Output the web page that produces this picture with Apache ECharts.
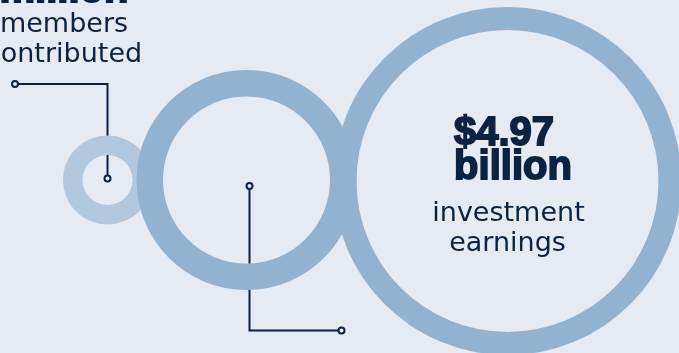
<!DOCTYPE html>
<html>
<head>
<meta charset="utf-8">
<script src="https://cdn.jsdelivr.net/npm/echarts@6/dist/echarts.min.js"></script>
<style>
  html, body { margin: 0; padding: 0; background: #e6eaf3; }
  #chart { width: 679px; height: 353px; }
</style>
</head>
<body>
<div id="chart"></div>
<script>
// Funding sources shown as rings; only the earnings figure carries a value.
const categories = ['Member contributions', 'Employer contributions', 'Investment earnings'];
const earningsBillions = 4.97;
const memberLines = ['million', 'members', 'contributed'];
const earningsLines = ['$' + earningsBillions.toFixed(2), 'billion'];
const earningsCaption = ['investment', 'earnings'];

const NAVY = '#0c2241';
const BG = '#e6eaf3';
const RING = '#93b2d0';
const RING_LIGHT = '#b1c8de';
const BOLD_FONT = '"Liberation Sans", Arial, sans-serif';
const BODY_FONT = '"DejaVu Sans", sans-serif';

const chart = echarts.init(document.getElementById('chart'), null, { renderer: 'canvas' });

function ring(name, value, center, radius, color) {
  return {
    type: 'pie',
    name: name,
    center: center,
    radius: radius,
    silent: true,
    animation: false,
    label: { show: false },
    labelLine: { show: false },
    itemStyle: { color: color, borderWidth: 0 },
    emphasis: { disabled: true },
    data: [{ name: name, value: value }]
  };
}

function textLine(str, x, y, font, size, weight, extra) {
  return {
    type: 'text',
    x: x,
    y: y,
    z: 20,
    silent: true,
    style: Object.assign({
      text: str,
      fill: NAVY,
      font: weight + ' ' + size + 'px ' + font,
      textAlign: 'center',
      textVerticalAlign: 'middle'
    }, extra || {})
  };
}

function dot(x, y) {
  return {
    type: 'circle', z: 30, silent: true,
    shape: { cx: x, cy: y, r: 3 },
    style: { fill: BG, stroke: NAVY, lineWidth: 2 }
  };
}

function connector(points) {
  return {
    type: 'polyline', z: 0, silent: true,
    shape: { points: points },
    style: { stroke: NAVY, lineWidth: 2, fill: null }
  };
}

// outline in the fill colour to give the figures a heavier weight
const heavy = { stroke: NAVY, lineWidth: 1.8, lineJoin: 'round' };

chart.setOption({
  backgroundColor: BG,
  animation: false,
  series: [
    ring(categories[0], 1, [107.5, 180], [25, 44.5], RING_LIGHT),
    ring(categories[1], 1, [246.5, 180], [83.5, 110], RING),
    ring(categories[2], earningsBillions, [507.5, 181], [151, 174], RING)
  ],
  graphic: [
    connector([[15, 84], [107.5, 84], [107.5, 178.5]]),
    connector([[249.5, 186], [249.5, 330.5], [341.5, 330.5]]),
    dot(15, 84),
    dot(107.5, 178.5),
    dot(249.5, 186),
    dot(341.5, 330.5),
    textLine(memberLines[0], 64, -8.8, BOLD_FONT, 40, 'bold', heavy),
    textLine(memberLines[1], 64, 25.3, BODY_FONT, 27, 'normal'),
    textLine(memberLines[2], 64, 55.3, BODY_FONT, 27, 'normal'),
    textLine(earningsLines[0], 504, 134.3, BOLD_FONT, 40, 'bold', heavy),
    textLine(earningsLines[1], 513, 167.6, BOLD_FONT, 40, 'bold', heavy),
    textLine(earningsCaption[0], 508.5, 213.7, BODY_FONT, 27, 'normal'),
    textLine(earningsCaption[1], 507.5, 243.7, BODY_FONT, 27, 'normal')
  ]
});
</script>
</body>
</html>
